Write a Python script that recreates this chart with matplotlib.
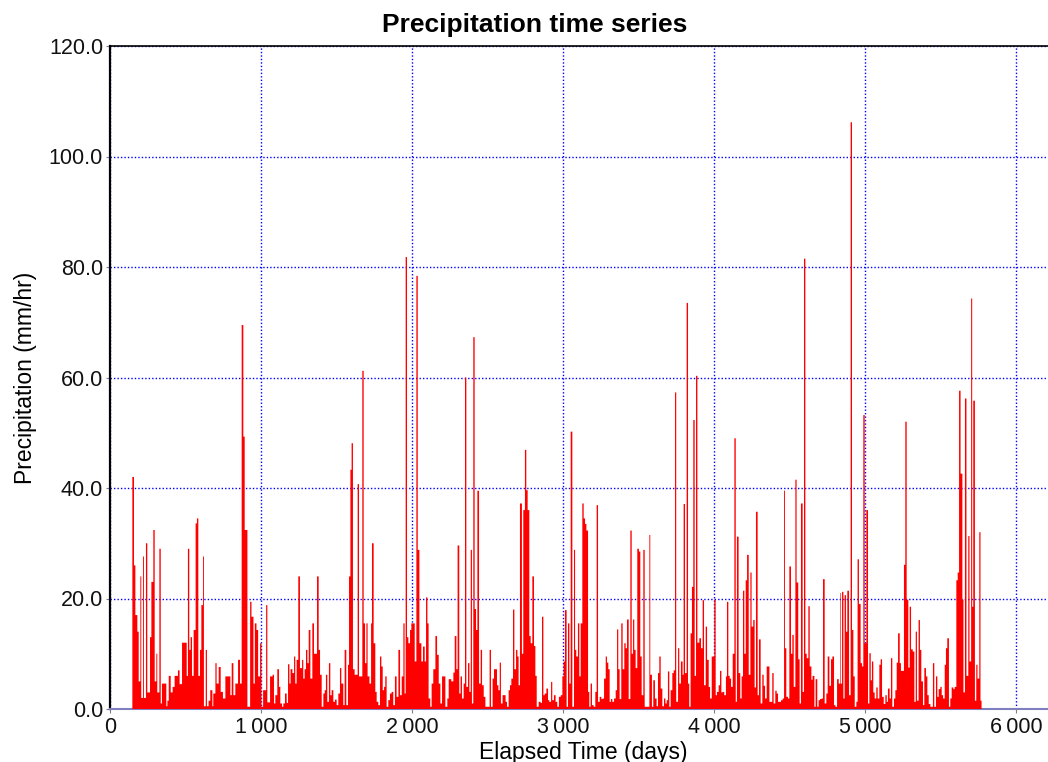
import numpy as np
import matplotlib.pyplot as plt
from matplotlib.ticker import FuncFormatter

# precipitation record (day, mm/hr), each value holds until the next day
days = [
    148, 159, 168, 181, 190, 201, 207, 219, 225, 238, 247, 265, 274, 287, 296, 307, 313, 327, 336, 344,
    362, 373, 380, 389, 402, 415, 428, 446, 450, 461, 477, 499, 508, 516, 525, 534, 543, 554, 567, 576,
    585, 596, 605, 616, 622, 634, 642, 653, 664, 678, 684, 698, 706, 720, 733, 748, 764, 786, 797, 806,
    817, 830, 848, 861, 872, 883, 892, 910, 928, 937, 950, 959, 970, 981, 994, 1003, 1014, 1034, 1042, 1060,
    1077, 1086, 1095, 1108, 1119, 1128, 1139, 1148, 1159, 1170, 1179, 1188, 1196, 1208, 1219, 1227, 1236, 1247, 1258, 1272,
    1280, 1289, 1298, 1307, 1316, 1327, 1340, 1351, 1371, 1382, 1391, 1402, 1413, 1422, 1430, 1439, 1450, 1459, 1468, 1479,
    1490, 1501, 1512, 1523, 1532, 1545, 1554, 1565, 1576, 1583, 1592, 1600, 1609, 1620, 1629, 1640, 1649, 1660, 1671, 1680,
    1689, 1698, 1706, 1718, 1729, 1735, 1746, 1757, 1766, 1777, 1788, 1797, 1806, 1815, 1823, 1832, 1843, 1854, 1865, 1876,
    1887, 1898, 1910, 1921, 1932, 1943, 1951, 1958, 1967, 1976, 1987, 1996, 2009, 2018, 2029, 2038, 2049, 2062, 2073, 2084,
    2093, 2102, 2110, 2121, 2130, 2141, 2155, 2166, 2177, 2188, 2199, 2210, 2221, 2234, 2243, 2260, 2274, 2283, 2294, 2302,
    2313, 2322, 2331, 2342, 2351, 2360, 2371, 2380, 2389, 2397, 2406, 2415, 2424, 2433, 2444, 2455, 2464, 2475, 2486, 2514,
    2523, 2534, 2543, 2552, 2563, 2572, 2581, 2589, 2600, 2609, 2620, 2629, 2640, 2649, 2658, 2669, 2678, 2689, 2698, 2706,
    2715, 2728, 2737, 2748, 2757, 2766, 2777, 2786, 2797, 2808, 2817, 2826, 2839, 2852, 2861, 2870, 2879, 2890, 2901, 2909,
    2921, 2929, 2940, 2951, 2962, 2973, 2985, 2996, 3004, 3013, 3024, 3033, 3042, 3051, 3062, 3073, 3080, 3088, 3099, 3108,
    3117, 3128, 3137, 3146, 3155, 3166, 3174, 3183, 3192, 3203, 3214, 3223, 3232, 3243, 3254, 3263, 3272, 3283, 3291, 3300,
    3309, 3318, 3327, 3338, 3349, 3358, 3366, 3375, 3386, 3395, 3406, 3415, 3424, 3435, 3446, 3455, 3464, 3472, 3481, 3492,
    3503, 3512, 3521, 3532, 3541, 3552, 3572, 3578, 3589, 3598, 3609, 3620, 3629, 3638, 3647, 3658, 3669, 3678, 3687, 3695,
    3704, 3713, 3724, 3733, 3742, 3750, 3762, 3770, 3781, 3792, 3799, 3808, 3819, 3828, 3836, 3845, 3854, 3863, 3872, 3881,
    3890, 3903, 3914, 3925, 3934, 3945, 3954, 3965, 3974, 3985, 3993, 4002, 4011, 4020, 4031, 4040, 4049, 4057, 4068, 4079,
    4086, 4095, 4104, 4113, 4124, 4135, 4144, 4152, 4163, 4174, 4183, 4192, 4201, 4210, 4219, 4230, 4241, 4249, 4260, 4269,
    4278, 4289, 4298, 4309, 4320, 4329, 4338, 4349, 4358, 4367, 4375, 4386, 4395, 4406, 4415, 4424, 4435, 4444, 4455, 4464,
    4470, 4479, 4490, 4499, 4510, 4519, 4528, 4539, 4547, 4558, 4567, 4576, 4587, 4596, 4605, 4614, 4625, 4634, 4645, 4653,
    4665, 4673, 4684, 4693, 4702, 4713, 4722, 4733, 4744, 4753, 4764, 4775, 4784, 4795, 4804, 4815, 4826, 4835, 4839, 4848,
    4857, 4865, 4874, 4883, 4894, 4905, 4914, 4923, 4932, 4943, 4951, 4960, 4971, 4980, 4989, 4998, 5009, 5020, 5029, 5038,
    5046, 5055, 5064, 5075, 5084, 5095, 5104, 5113, 5124, 5135, 5144, 5152, 5163, 5172, 5181, 5192, 5201, 5210, 5219, 5230,
    5238, 5249, 5258, 5267, 5276, 5287, 5296, 5305, 5316, 5327, 5336, 5344, 5355, 5364, 5373, 5384, 5393, 5404, 5413, 5422,
    5433, 5450, 5459, 5470, 5479, 5488, 5499, 5508, 5517, 5528, 5536, 5545, 5556, 5565, 5574, 5585, 5594, 5605, 5614, 5623,
    5633, 5645, 5652, 5662, 5672, 5684, 5692, 5703, 5710, 5717, 5728, 5737, 5745, 5757, 5765,
]
precip = [
    42, 26, 17, 14, 5, 24, 2, 27.6, 2, 30, 3, 13, 23, 32.4, 5, 10, 3, 29, 1, 4.6,
    4.6, 0.5, 1.5, 6, 3, 4, 6, 6, 7, 4.5, 12, 12, 6, 29, 10.7, 13, 6, 14.3, 33.6, 34.5,
    6, 10.7, 18.8, 27.6, 0.5, 10.7, 0.5, 1.5, 3.4, 0.5, 2.8, 8.3, 4.6, 7.6, 3.1, 1.9, 5.9, 5.9, 2.5, 8.3,
    2.5, 4.6, 8.9, 4.6, 69.5, 49.3, 32.4, 0.4, 19.4, 16.7, 4.6, 15.5, 14.3, 5.9, 11.9, 0.4, 3.4, 18.8, 1.2, 5.9,
    6.2, 1, 2.5, 7.2, 4, 1, 0.4, 1, 2.8, 1.1, 8.1, 4.6, 7.2, 6.5, 9.5, 4.6, 8.9, 24, 7.4, 8.9,
    5.5, 7.2, 10.7, 8.3, 14.3, 5.5, 15.5, 10, 24, 10.7, 6.2, 0.4, 2.8, 3.4, 6.2, 1.3, 8.3, 2.5, 3.4, 1.3,
    1.7, 0.7, 2.8, 7.4, 4.6, 0.7, 10.7, 0.7, 8, 24, 43.3, 48.1, 7.2, 6.2, 6.2, 40.7, 5.9, 5.9, 61.2, 15.5,
    8.3, 15.5, 5.9, 4.6, 15.5, 30, 11.9, 3.1, 1.3, 0.7, 9.5, 7.7, 3.4, 4, 5.9, 0.4, 1.6, 2.8, 3.1, 0.7,
    5.9, 2.2, 10.7, 2.5, 5.9, 15.5, 2.8, 81.8, 13, 11.9, 14.3, 15.5, 15.5, 8.6, 78.4, 28.8, 11.9, 8.6, 11.3, 8.6,
    20.2, 15.5, 1.9, 0.4, 4.6, 7.2, 13.2, 9.8, 4.6, 1, 5.9, 5.9, 0.4, 1.9, 5.4, 5, 6.6, 13.2, 7.2, 29.6,
    2.8, 5.9, 1.9, 4.6, 60, 4, 8.3, 3.1, 28.8, 1, 67.3, 18.1, 14.3, 39.5, 4.6, 10.7, 4.3, 2.2, 0.4, 10.7,
    0.4, 5.5, 7.2, 7.2, 4.3, 3.4, 8.4, 1, 2.5, 2.5, 1.3, 0.4, 3.4, 4.3, 5.5, 18, 7.2, 10.7, 9.5, 4.3,
    37.2, 10, 36, 46.9, 39.6, 36, 13.2, 11.9, 24, 11.4, 6, 0.4, 1.3, 1.1, 16.7, 2.5, 2.8, 3.7, 1.6, 1.3,
    4.9, 1.6, 2.5, 1.3, 0.4, 2.2, 2.5, 5.9, 8.6, 17.9, 0.4, 15.5, 4.6, 50.2, 0.4, 28.8, 10.7, 9.5, 15.5, 5.9,
    15.5, 37.2, 34.5, 33.5, 32.3, 3.1, 0.4, 4.6, 0.7, 0.4, 3.1, 36.9, 1.3, 2.2, 1.8, 1.9, 5.5, 9.5, 8.4, 7.2,
    1.3, 1.8, 1.3, 1.9, 3.4, 14.4, 7.2, 1.8, 15.5, 7.2, 11.9, 11, 16.2, 1.8, 32.3, 10, 16.2, 10.7, 7.4, 29,
    28.5, 9.5, 2.5, 28.8, 0.4, 0.4, 31.5, 6.2, 0.4, 5.2, 1.9, 0.5, 6.5, 9.5, 3.7, 0.5, 1.9, 1, 1.6, 6.8,
    0.4, 3.4, 6.5, 7, 57.3, 1.3, 11, 4.6, 8.6, 6.2, 37.1, 6.5, 73.5, 4.6, 0.4, 13.7, 22.1, 52.3, 6, 60.3,
    12, 12.8, 11, 19.7, 4.3, 14.9, 8.9, 4, 1.9, 9.5, 9.5, 19.8, 2.5, 3.1, 4.3, 6.9, 3, 3.1, 2.5, 5.9,
    19.4, 6, 5.5, 4, 10, 49, 1.3, 31.2, 6.5, 1.9, 5.9, 21.4, 10, 23.3, 27.9, 6.2, 24.7, 14.9, 16.1, 3.9,
    35.7, 2.5, 12.6, 1, 6.2, 4.2, 1.9, 7.7, 7.7, 1.3, 1.3, 6.5, 1, 3.3, 2.8, 1.3, 1.3, 1.6, 1.9, 39.5,
    11, 2.2, 1.9, 25.8, 10, 13.4, 4, 41.5, 22.9, 9, 1, 37.2, 3.1, 81.5, 10, 9.2, 18.6, 7.7, 5.3, 6,
    0.4, 5.4, 0.4, 1.6, 1.8, 1.9, 23.5, 1, 2.8, 9.5, 4.2, 9, 9.5, 0.7, 0.4, 5.4, 4.6, 21, 4.6, 21.2,
    1.9, 20.6, 14, 21.4, 2.5, 106.2, 14.3, 5.9, 0.4, 1.3, 27.1, 19, 8.3, 7.7, 53.2, 11.9, 36, 1, 10.1, 5.2,
    8.6, 3, 1.9, 3.9, 1.9, 8, 9, 2.2, 0.9, 2.5, 1.3, 3.7, 1.9, 9.2, 0.4, 1.9, 3.4, 8.4, 13.7, 8.3,
    6.9, 6.9, 26.1, 52, 19.8, 7.5, 18.5, 10.8, 10.4, 1.3, 14, 1.5, 16.1, 10.7, 5, 0.7, 7.4, 5.9, 2.5, 0.9,
    0.4, 8.3, 0.4, 5.9, 2.2, 3.6, 4, 2.5, 1.9, 8, 11, 12.8, 0.4, 1.9, 3.9, 3.6, 4, 23.3, 24.7, 57.6,
    42.6, 19.8, 3, 56.2, 6, 31.3, 8.6, 74.3, 18.5, 55.8, 1.5, 8, 5.5, 32, 1.5,
]
last_day = 5772

x_ticks = [0, 1000, 2000, 3000, 4000, 5000, 6000]
y_ticks = [0, 20, 40, 60, 80, 100, 120]

plt.rcParams['font.family'] = ['Liberation Sans', 'DejaVu Sans']

fig = plt.figure(figsize=(10.48, 7.62), dpi=100)
ax = fig.add_axes([110 / 1048, 53 / 762, 1 - 110 / 1048, 663 / 762])

edges = days + [last_day]
ax.stairs(precip, edges, fill=True, color='red', zorder=3)

ax.set_xlim(0, 6212)
ax.set_ylim(0, 120)
ax.set_xticks(x_ticks)
ax.set_yticks(y_ticks)
ax.xaxis.set_major_formatter(FuncFormatter(lambda v, p: '{:,}'.format(int(v)).replace(',', '\u2009')))
ax.yaxis.set_major_formatter(FuncFormatter(lambda v, p: '%.1f' % v))
ax.tick_params(labelsize=15.5, length=3, color='gray', colors='#111111')
ax.tick_params(axis='x', pad=3)
ax.tick_params(axis='y', pad=2)

ax.grid(True, color='blue', linestyle=(0, (1, 1.5)), linewidth=1.0, zorder=1)
ax.set_axisbelow(True)

ax.spines['left'].set_linewidth(1.6)
ax.spines['left'].set_color('black')
ax.spines['top'].set_linewidth(1.2)
ax.spines['top'].set_color('black')
ax.spines['bottom'].set_color('#8080c0')
ax.spines['bottom'].set_linewidth(1.5)
ax.spines['right'].set_visible(False)

ax.set_ylabel('Precipitation (mm/hr)', fontsize=16.5, va='center')
ax.yaxis.set_label_coords(-0.09, 0.5)
ax.set_xlabel('Elapsed Time (days)', fontsize=16.5, va='center')
ax.xaxis.set_label_coords(0.505, -0.065)
fig.text(535 / 1048, 1 - 25 / 762, 'Precipitation time series', ha='center', va='center',
         fontsize=19, fontweight='bold')

fig.savefig('out.png', dpi=100)
